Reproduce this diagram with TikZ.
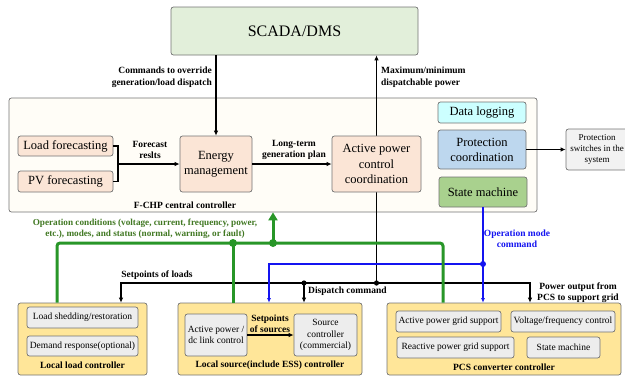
\documentclass[tikz,border=0pt]{standalone}
\usepackage{fontspec}
\setmainfont{Liberation Serif}
\newfontfamily\tnr{Liberation Serif}
\usetikzlibrary{arrows.meta}
\definecolor{peach}{RGB}{251,229,214}
\definecolor{cream}{RGB}{255,253,247}
\definecolor{scadag}{RGB}{226,239,218}
\definecolor{dlcyan}{RGB}{204,255,255}
\definecolor{pcblue}{RGB}{189,215,238}
\definecolor{smgreen}{RGB}{169,209,142}
\definecolor{psgray}{RGB}{242,242,242}
\definecolor{lcyellow}{RGB}{255,230,153}
\definecolor{ingray}{RGB}{237,237,237}
\definecolor{gcol}{RGB}{40,150,40}
\definecolor{gtext}{RGB}{65,120,35}
\definecolor{bcol}{RGB}{20,20,240}
\begin{document}
\begin{tikzpicture}[x=1pt,y=-1pt,
  box/.style={draw=black!55, rounded corners=2.5pt, align=center, inner sep=1pt, line width=0.7pt},
  tbig/.style={font=\tnr\fontsize{12.5}{15}\selectfont},
  tsmall/.style={font=\tnr\fontsize{9.5}{11.5}\selectfont},
  lab/.style={font=\tnr\bfseries\fontsize{9.5}{11.5}\selectfont, align=center, inner sep=0pt},
  conn/.style={line width=1.1pt, -{Latex[length=5pt,width=4.5pt]}},
  gline/.style={line width=3pt, draw=gcol},
  bline/.style={line width=1.3pt, draw=bcol},
]
\useasboundingbox (0,0) rectangle (625,376);

% central controller and SCADA
\node[box, fill=cream, minimum width=528pt, minimum height=114pt] (cen) at (273,155) {};
\node[box, fill=scadag, minimum width=247pt, minimum height=48pt, font=\tnr\fontsize{16}{19}\selectfont] (scada) at (294.5,31) {SCADA/DMS};

\coordinate (dAPC) at (376.5,283);
\draw[conn] (dAPC) -- (dAPC |- scada.south);

% inner nodes
\node[box, fill=peach, tbig, minimum width=95pt, minimum height=20pt] (lf) at (65.5,146) {Load forecasting};
\node[box, fill=peach, tbig, minimum width=95pt, minimum height=21pt] (pv) at (65.5,181.5) {PV forecasting};
\node[box, fill=peach, tbig, minimum width=72pt, minimum height=56pt] (em) at (216,164) {Energy\\management};
\node[box, fill=peach, minimum width=89pt, minimum height=56pt, font=\tnr\fontsize{12.5}{15.5}\selectfont] (apc) at (376.5,164) {Active power\\control\\coordination};
\node[box, fill=dlcyan, tbig, minimum width=88pt, minimum height=21pt] (dl) at (482,112.5) {Data logging};
\node[box, fill=pcblue, tbig, minimum width=88pt, minimum height=39pt] (pc) at (482,149.5) {Protection\\coordination};
\node[box, fill=smgreen, tbig, minimum width=88pt, minimum height=30pt] (sm) at (483,192) {State machine};
\node[box, fill=psgray, font=\tnr\fontsize{9}{11}\selectfont, minimum width=62pt, minimum height=41pt] (ps) at (597,149.5) {Protection\\switches in the\\system};

\node[lab] (lcen) at (185,205) {F-CHP central controller};

% forecasts
\coordinate (fj) at (118,164);
\draw[line width=1.1pt] (lf.east) -| (fj);
\draw[line width=1.1pt] (pv.east) -| (fj);
\draw[conn] (fj) -- (em.west);
\node[lab] (lfr) at (150,150) {Forecast\\reslts};

\draw[conn] (em.north |- scada.south) -- (em.north);
\draw[conn] (em.east) -- (apc.west);
\node[lab] (llt) at (294,150) {Long-term\\generation plan};
\draw[conn] (pc.east) -- (ps.west);

\node[lab, anchor=east, align=right] (lcmd) at (212,77) {Commands to override\\generation/load dispatch};
\node[lab, anchor=west, align=left] (lmax) at (381,77) {Maximum/minimum\\dispatchable power};

% bottom controllers
\node[box, fill=lcyellow, minimum width=129pt, minimum height=72pt] (llc) at (82.5,339) {};
\node[box, fill=ingray, tsmall, minimum width=111pt, minimum height=21pt] (ls) at (82.5,317.5) {Load shedding/restoration};
\node[box, fill=ingray, tsmall, minimum width=111pt, minimum height=20pt] (dr) at (82.5,346) {Demand response(optional)};
\node[lab] (lllc) at (82.5,365) {Local load controller};

\node[box, fill=lcyellow, minimum width=184pt, minimum height=72pt] (lsc) at (270,339) {};
\node[box, fill=ingray, tsmall, minimum width=62pt, minimum height=42pt] (ap) at (216,335) {Active power /\\dc link control};
\node[box, fill=ingray, tsmall, minimum width=63pt, minimum height=42pt] (sc) at (325.5,335) {Source\\controller\\(commercial)};
\draw[conn] (ap.east) -- (sc.west);
\node[lab] (lsos) at (270,324) {Setpoints\\of sources};
\node[lab] (llsc) at (270,365) {Local source(include ESS) controller};

\node[box, fill=lcyellow, minimum width=234pt, minimum height=72pt] (pcs) at (504,339) {};
\node[box, fill=ingray, tsmall, minimum width=105pt, minimum height=21pt] (apg) at (448.5,321.5) {Active power grid support};
\node[box, fill=ingray, tsmall, minimum width=104pt, minimum height=21pt] (vfc) at (563,321.5) {Voltage/frequency control};
\node[box, fill=ingray, tsmall, minimum width=117pt, minimum height=21pt] (rpg) at (455.5,347.5) {Reactive power grid support};
\node[box, fill=ingray, tsmall, minimum width=73pt, minimum height=21pt] (sm2) at (563.5,347.5) {State machine};
\node[lab] (lpcs) at (504,367) {PCS converter controller};

% black dispatch lines
\coordinate (kL) at (121,283);
\coordinate (kR) at (530,283);
\coordinate (k1) at (304,283);
\draw[line width=1.1pt, {Latex[length=5pt,width=4.5pt]}-{Latex[length=5pt,width=4.5pt]}] (llc.north -| kL) |- (kR) -- (pcs.north -| kR);
\draw[conn] (k1) -- (lsc.north -| k1);
\fill (k1) circle (2.6pt);
\fill (dAPC) circle (2.6pt);
\node[lab, anchor=south] (lsl) at (157,280) {Setpoints of loads};
\node[lab, anchor=west] (ldc) at (308,291) {Dispatch command};
\node[lab] (lpo) at (578,292.5) {Power output from\\PCS to support grid};

% blue
\coordinate (bD) at (483,264);
\coordinate (bL) at (269,264);
\draw[bline, -{Latex[length=4.5pt,width=4pt]}] (sm.south) -- (pcs.north -| sm.south);
\draw[bline, -{Latex[length=4.5pt,width=4pt]}] (bD) -| (lsc.north -| bL);
\fill[bcol] (bD) circle (3pt);
\node[lab, text=bcol] (lom) at (517,238.5) {Operation mode\\command};

% green
\coordinate (gL) at (57,243);
\coordinate (gR) at (443,243);
\coordinate (g1) at (233,243);
\coordinate (g2) at (273,243);
\draw[gline, rounded corners=3pt] (llc.north -| gL) -- (gL) -- (gR) -- (pcs.north -| gR);
\draw[gline] (g1) -- (lsc.north -| g1);
\draw[gline, -{Triangle[length=8pt,width=9pt]}] (g2) -- (cen.south -| g2);
\fill[gcol] (g1) circle (4pt);
\fill[gcol] (g2) circle (4pt);
\node[lab, text=gtext, font=\tnr\bfseries\fontsize{9.2}{11}\selectfont] (lop) at (145,228.5) {Operation conditions (voltage, current, frequency, power,\\etc.), modes, and status (normal, warning, or fault)};
\end{tikzpicture}
\end{document}
